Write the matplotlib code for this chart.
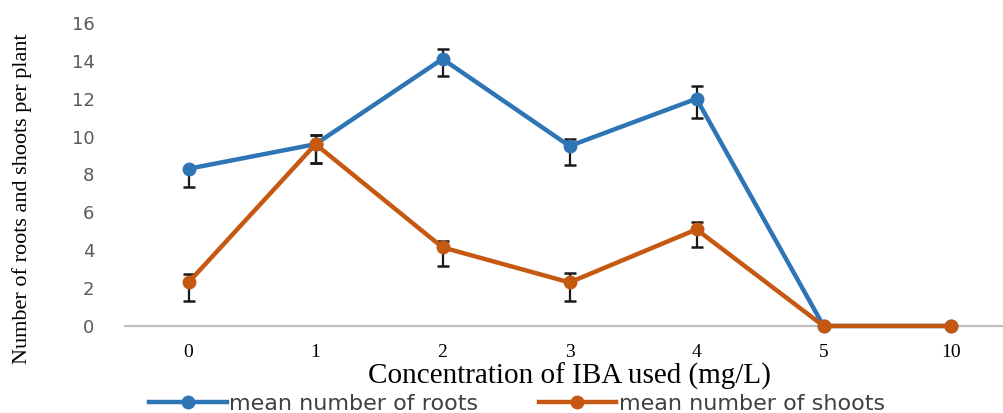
"""Roots and shoots per plant against IBA concentration."""
import matplotlib

matplotlib.use("Agg")
import matplotlib.pyplot as plt
import numpy as np

concentrations = ["0", "1", "2", "3", "4", "5", "10"]
roots_mean = [8.3, 9.6, 14.1, 9.5, 12.0, 0.0, 0.0]
roots_err_low = [0.95, 1.0, 0.9, 1.0, 1.0, 0.0, 0.0]
roots_err_high = [0.0, 0.5, 0.55, 0.35, 0.65, 0.0, 0.0]
shoots_mean = [2.3, 9.6, 4.15, 2.3, 5.1, 0.0, 0.0]
shoots_err_low = [1.0, 1.0, 1.0, 1.0, 0.95, 0.0, 0.0]
shoots_err_high = [0.45, 0.5, 0.35, 0.5, 0.4, 0.0, 0.0]

BLUE = "#2E75B6"
ORANGE = "#C65911"

fig = plt.figure(figsize=(10.04, 4.13), dpi=100)
ax = fig.add_axes([0.1245, 0.2107, 0.8855, 0.7337])
x = np.arange(len(concentrations))

series = [
    (roots_mean, roots_err_low, roots_err_high, BLUE, "mean number of roots", 3),
    (shoots_mean, shoots_err_low, shoots_err_high, ORANGE, "mean number of shoots", 4),
]
for mean, lo, hi, color, label, z in series:
    ax.errorbar(x, mean, yerr=[lo, hi], fmt="none", ecolor="#1a1a1a",
                elinewidth=1.6, capsize=4.5, capthick=1.8, zorder=1,
                clip_on=False)
    ax.plot(x, mean, color=color, lw=3.2, marker="o", ms=9, label=label,
            zorder=z, clip_on=False)

ax.set_xlim(-0.5, len(concentrations) - 0.5)
ax.set_ylim(0, 16)
ax.set_yticks(np.arange(0, 17, 2))
ax.set_xticks(x)
ax.set_xticklabels(concentrations, family="Liberation Serif", fontsize=14)

for side in ("top", "right", "left"):
    ax.spines[side].set_visible(False)
ax.spines["bottom"].set_color("#BFBFBF")
ax.spines["bottom"].set_linewidth(1.6)
ax.tick_params(axis="x", length=0, pad=13)
ax.tick_params(axis="y", length=0, pad=22, labelsize=13, labelcolor="#595959")

ax.set_xlabel("Concentration of IBA used (mg/L)", family="Liberation Serif",
              fontsize=21, labelpad=1)
fig.text(0.022, 0.52, "Number of roots and shoots per plant",
         family="Liberation Serif", fontsize=16, rotation=90,
         ha="center", va="center")

fig.legend(loc="center", bbox_to_anchor=(0.515, 0.022), ncol=2, frameon=False,
           fontsize=16, handlelength=3.5, handletextpad=0.1,
           columnspacing=2.7, labelcolor="#404040")

fig.savefig("out.png", dpi=100)
plt.close(fig)
